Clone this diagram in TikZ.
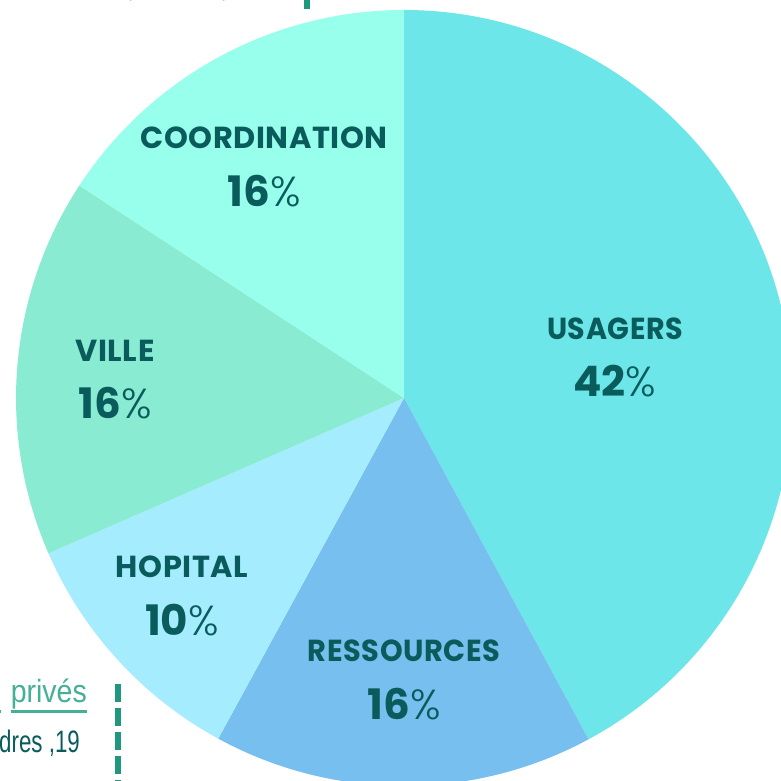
\documentclass[tikz,border=0pt]{standalone}
\usepackage{fontspec}
\setmainfont{Poppins}
\newfontfamily\lab[LetterSpace=2]{Poppins Bold}
\newfontfamily\pct{Poppins Bold}
\newfontfamily\pctr{Poppins Light}
\newfontfamily\cond{Liberation Sans}
\definecolor{usagers}{HTML}{6CE6E9}
\definecolor{ressources}{HTML}{76BFEE}
\definecolor{hopital}{HTML}{A5ECFF}
\definecolor{ville}{HTML}{8AEBD3}
\definecolor{coord}{HTML}{97FFEC}
\definecolor{ink}{HTML}{0A5C5C}
\definecolor{dashc}{HTML}{1F9880}
\definecolor{linkc}{HTML}{45B096}
\tikzset{
  x=1pt,y=1pt,
  title/.style={text=ink,inner sep=0pt,font=\lab\fontsize{30.4}{30}\selectfont},
  value/.style={text=ink,inner sep=0pt,font=\pct\fontsize{42}{42}\selectfont},
  dashline/.style={draw=dashc,line width=6pt,dash pattern=on 18pt off 6pt},
  topmark/.style={anchor=base,inner sep=0pt,text=ink!60,font=\cond\fontsize{27}{27}\selectfont}
}
\newcommand{\slicefill}[3]{\fill[#1] (404,383) -- +(#2:388) arc[start angle=#2,end angle=#3,radius=388] -- cycle;}
\newcommand{\pc}[1]{#1{\pctr\%}}
\begin{document}
\begin{tikzpicture}
\useasboundingbox (0,0) rectangle (781,781);
\clip (0,0) rectangle (781,781);
\fill[white] (0,0) rectangle (781,781);
\slicefill{usagers}{90}{-61.6}
\slicefill{ressources}{-61.6}{-118.6}
\slicefill{hopital}{-118.6}{-156.4}
\slicefill{ville}{-156.4}{-213.2}
\slicefill{coord}{-213.2}{-270}
\node[title,xscale=.94] (t1) at (615,452) {USAGERS};
\node[value] (v1) at (615,400) {\pc{42}};
\node[title,xscale=.95] (t2) at (404,130) {RESSOURCES};
\node[value] (v2) at (404,77) {\pc{16}};
\node[title] (t3) at (182,214) {HOPITAL};
\node[value] (v3) at (182,161) {\pc{10}};
\node[title] (t4) at (115,430) {VILLE};
\node[value] (v4) at (115,378) {\pc{16}};
\node[title] (t5) at (264,643) {COORDINATION};
\node[value] (v5) at (264,590) {\pc{16}};
\node[anchor=base east,inner sep=0pt,text=linkc,font=\cond\fontsize{32}{32}\selectfont,xscale=.89] (p) at (87,78) {privés};
\draw[linkc,line width=2.5pt] (11,69.5) -- (87,69.5);
\draw[linkc,line width=2.5pt] (0,69.5) -- (1,69.5);
\node[anchor=base east,inner sep=0pt,text=ink,font=\cond\fontsize{31}{31}\selectfont,xscale=.72] (d) at (80,28) {dres ,19};
\draw[dashline] (118,97) -- (118,0);
\draw[dashc,line width=6pt] (307,781) -- (307,772);
\node[topmark] (c1) at (131,783) {,};
\node[topmark] (c2) at (224,783) {,};
\end{tikzpicture}
\end{document}
